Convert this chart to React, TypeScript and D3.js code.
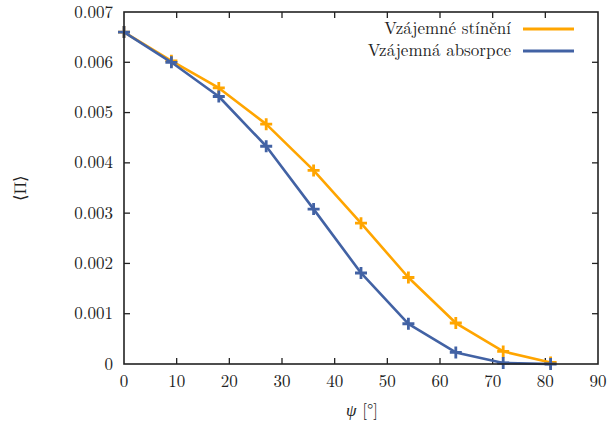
import React from 'react'
import { scaleLinear, line } from 'd3'

const psi = [0, 9, 18, 27, 36, 45, 54, 63, 72, 81]
const shading = [0.0066, 0.00603, 0.00549, 0.00477, 0.00385, 0.0028, 0.00172, 0.000815, 0.00025, 0.00003]
const absorption = [0.0066, 0.006, 0.00532, 0.00433, 0.00308, 0.00181, 0.0008, 0.00023, 0.00002, 0.0]
const xTicks = [0, 10, 20, 30, 40, 50, 60, 70, 80, 90]
const yTicks = [0, 0.001, 0.002, 0.003, 0.004, 0.005, 0.006, 0.007]
const seriesNames = ['Vzájemné stínění', 'Vzájemná absorpce']
const seriesColors = ['#ffa500', '#4262a4']

const App = () => {
	const width = 613
	const height = 427
	const margin = { top: 12, right: 15, bottom: 63, left: 124 }
	const textStyle = { fontFamily: "'Latin Modern Roman'", fontSize: 17 }

	const x = scaleLinear().domain([0, 90]).range([margin.left, width - margin.right])
	const y = scaleLinear().domain([0, 0.007]).range([height - margin.bottom, margin.top])

	const series = [shading, absorption]
	const path = line<number>().x((_, i) => x(psi[i])).y(d => y(d))
	const tick = 6
	const plus = 6

	return (
		<svg width={width} height={height} style={{ position: 'absolute', left: 0, top: 0 }}>
			<rect width={width} height={height} fill="white" />

			{/* ticks, mirrored on all sides */}
			{xTicks.slice(1, -1).map(t => (
				<g key={`xt-${t}`} stroke="#222" strokeWidth={1.3}>
					<line x1={x(t)} x2={x(t)} y1={y(0)} y2={y(0) - tick} />
					<line x1={x(t)} x2={x(t)} y1={y(0.007)} y2={y(0.007) + tick} />
				</g>
			))}
			{yTicks.slice(1, -1).map(t => (
				<g key={`yt-${t}`} stroke="#222" strokeWidth={1.3}>
					<line x1={x(0)} x2={x(0) + tick} y1={y(t)} y2={y(t)} />
					<line x1={x(90)} x2={x(90) - tick} y1={y(t)} y2={y(t)} />
				</g>
			))}

			{series.map((s, k) => (
				<g key={`s-${k}`}>
					<path d={path(s) || ''} fill="none" stroke={seriesColors[k]} strokeWidth={2.6} strokeLinejoin="round" />
					{s.map((v, i) => (
						<path
							key={`m-${k}-${i}`}
							d={`M${x(psi[i]) - plus},${y(v)}h${plus * 2}M${x(psi[i])},${y(v) - plus}v${plus * 2}`}
							stroke={seriesColors[k]}
							strokeWidth={2.8}
						/>
					))}
				</g>
			))}

			<rect x={x(0)} y={y(0.007)} width={x(90) - x(0)} height={y(0) - y(0.007)} fill="none" stroke="#222" strokeWidth={1.6} />

			{xTicks.map(t => (
				<text key={`xl-${t}`} x={x(t)} y={y(0) + 23} textAnchor="middle" style={textStyle} fill="#222">{t}</text>
			))}
			{yTicks.map(t => (
				<text key={`yl-${t}`} x={x(0) - 11} y={y(t) + 5.5} textAnchor="end" style={textStyle} fill="#222">
					{t === 0 ? '0' : t.toFixed(3)}
				</text>
			))}

			{/* legend */}
			{seriesNames.map((n, k) => (
				<g key={`lg-${k}`}>
					<text x={511} y={34 + k * 22} textAnchor="end" style={textStyle} fill="#222">{n}</text>
					<line x1={523} x2={574} y1={29 + k * 22} y2={29 + k * 22} stroke={seriesColors[k]} strokeWidth={2.8} />
				</g>
			))}

			<text x={362} y={416} textAnchor="middle" style={textStyle} fill="#222">
				<tspan fontStyle="italic">ψ</tspan> [°]
			</text>
			<text transform={`translate(26, ${y(0.0035)}) rotate(-90)`} textAnchor="middle" style={textStyle} fill="#222">⟨Π⟩</text>
		</svg>
	)
}

export default App
